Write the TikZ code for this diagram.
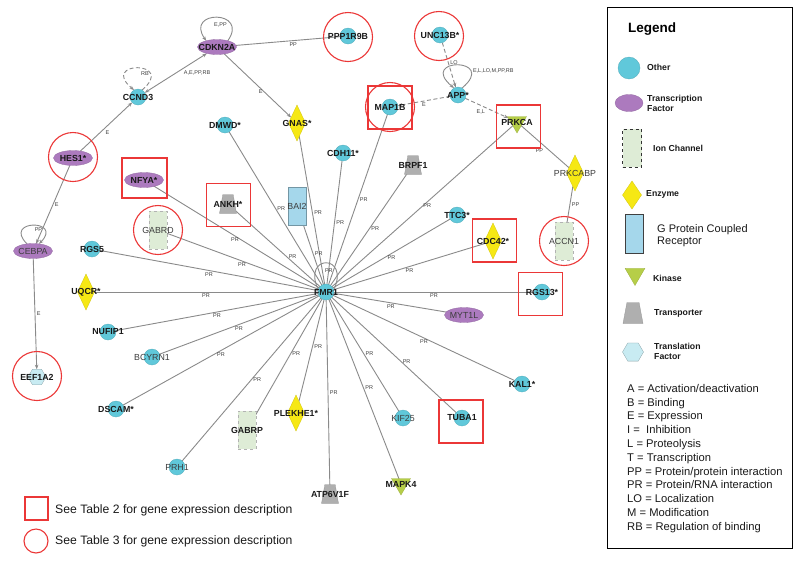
\documentclass[tikz,border=0pt]{standalone}
\usepackage{fontspec}
\setmainfont{Liberation Sans}
\usetikzlibrary{shapes.geometric,arrows.meta}
\pgfdeclarelayer{bg}
\pgfsetlayers{bg,main}
\definecolor{cother}{RGB}{96,200,218}
\definecolor{ctf}{RGB}{172,122,190}
\definecolor{cenz}{RGB}{246,232,20}
\definecolor{ckin}{RGB}{182,206,72}
\definecolor{ctrans}{RGB}{175,175,175}
\definecolor{cgpcr}{RGB}{165,215,235}
\definecolor{cion}{RGB}{222,236,214}
\definecolor{chex}{RGB}{200,235,242}
\definecolor{cred}{RGB}{235,55,55}
\definecolor{cedge}{RGB}{138,138,138}
\definecolor{ctext}{RGB}{25,25,25}
\definecolor{ctextr}{RGB}{60,60,60}
\begin{document}
\begin{tikzpicture}[x=1pt,y=-1pt,
  gene/.style={inner sep=0pt, outer sep=0pt, line width=0.3pt},
  glab/.style={font=\fontsize{8.8}{9}\selectfont\bfseries, text=ctext, inner sep=0pt},
  glabr/.style={font=\fontsize{8.8}{9}\selectfont, text=ctextr, inner sep=0pt},
  gl/.style={label={[glab]center:#1}},
  glr/.style={label={[glabr]center:#1}},
  other/.style={gene, circle, fill=cother, draw=cother!85!black, minimum size=16pt},
  tf/.style={gene, ellipse, fill=ctf, draw=ctf!85!black, minimum width=39pt, minimum height=15pt},
  enz/.style={gene, diamond, fill=cenz, draw=cenz!85!black, minimum width=17pt, minimum height=36pt},
  ion/.style={gene, rectangle, fill=cion, draw=gray!60, dashed, line width=0.5pt, minimum width=18pt, minimum height=38pt},
  gpcr/.style={gene, rectangle, fill=cgpcr, draw=cgpcr!70!black, line width=0.4pt, minimum width=18pt, minimum height=38pt},
  trans/.style={gene, inner sep=1pt, trapezium, trapezium left angle=72, trapezium right angle=72, trapezium stretches=true, fill=ctrans, draw=ctrans!85!black, minimum width=17pt, minimum height=19pt},
  kin/.style={gene, regular polygon, regular polygon sides=3, shape border rotate=180, fill=ckin, draw=ckin!85!black, minimum size=22pt},
  hex/.style={gene, regular polygon, regular polygon sides=6, fill=chex, draw=chex!70!black, minimum size=18pt},
  redci/.style={circle, draw=cred, line width=1.1pt, minimum size=49pt, inner sep=0pt},
  redsq/.style={rectangle, draw=cred, line width=1.1pt, minimum width=44pt, minimum height=43pt, inner sep=0pt},
  edge/.style={draw=cedge, line width=0.9pt},
  arr/.style={edge, -{Stealth[length=4.5pt,width=3.5pt]}},
  arrb/.style={edge, {Stealth[length=4.5pt,width=3.5pt]}-{Stealth[length=4.5pt,width=3.5pt]}},
  dashln/.style={dash pattern=on 4pt off 2.5pt},
  elbl/.style={font=\fontsize{5.5}{6}\selectfont, text=ctextr, inner sep=1.5pt},
  ltxt/.style={font=\fontsize{8.7}{9.8}\selectfont\bfseries, text=ctext, inner sep=0pt, align=left, anchor=west},
]
\useasboundingbox (0,0) rectangle (800,563);

% ---------------- genes ----------------
\node[other, gl=FMR1] (FMR1) at (326,292) {};
\node[tf, gl=CDKN2A] (CDKN2A) at (217,47) {};
\node[other, gl=CCND3] (CCND3) at (138,97) {};
\node[tf, gl={HES1*}] (HES1) at (73,158) {};
\node[tf, glr=CEBPA] (CEBPA) at (33,251) {};
\node[hex, gl=EEF1A2] (EEF1A2) at (37,377) {};
\node[other, gl=PPP1R9B] (PPP1R9B) at (348,36) {};
\node[other, gl={UNC13B*}] (UNC13B) at (440,35) {};
\node[other, gl={APP*}] (APP) at (458,95) {};
\node[other, gl=MAP1B] (MAP1B) at (390,107) {};
\node[kin, gl=PRKCA] (PRKCA) at (517,122) {};
\node[enz, glr=PRKCABP] (PRKCABP) at (575,173) {};
\node[ion, glr=ACCN1] (ACCN1) at (564,241) {};
\node[other, gl={DMWD*}] (DMWD) at (225,125) {};
\node[enz, gl={GNAS*}] (GNAS) at (297,123) {};
\node[other, gl={CDH11*}] (CDH11) at (343,153) {};
\node[trans, gl=BRPF1] (BRPF1) at (413,165) {};
\node[gpcr, glr=BAI2] (BAI2) at (297,206) {};
\node[trans, gl={ANKH*}] (ANKH) at (228,204) {};
\node[tf, gl={NFYA*}] (NFYA) at (144,180) {};
\node[ion, glr=GABRD] (GABRD) at (158,230) {};
\node[other, gl={TTC3*}] (TTC3) at (457,215) {};
\node[enz, gl={CDC42*}] (CDC42) at (493,241) {};
\node[other, gl={RGS13*}] (RGS13) at (542,292) {};
\node[tf, glr=MYT1L] (MYT1L) at (464,315) {};
\node[other, gl=RGS5] (RGS5) at (92,249) {};
\node[enz, gl={UQCR*}] (UQCR) at (86,292) {};
\node[other, gl=NUFIP1] (NUFIP1) at (108,332) {};
\node[other, glr=BCYRN1] (BCYRN1) at (152,357) {};
\node[other, gl={DSCAM*}] (DSCAM) at (116,409) {};
\node[other, glr=PRH1] (PRH1) at (177,467) {};
\node[ion, gl=GABRP] (GABRP) at (247,430) {};
\node[enz, gl={PLEKHE1*}] (PLEKHE1) at (296,413) {};
\node[trans, gl=ATP6V1F] (ATP6V1F) at (330,494) {};
\node[kin, gl=MAPK4] (MAPK4) at (401,484) {};
\node[other, glr=KIF25] (KIF25) at (403,418) {};
\node[other, gl=TUBA1] (TUBA1) at (462,418) {};
\node[other, gl={KAL1*}] (KAL1) at (522,384) {};

% ---------------- highlight marks ----------------
\node[redci] (HES1m) at (73,157) {};
\node[redci] (PPP1R9Bm) at (348,37) {};
\node[redci] (UNC13Bm) at (439,36) {};
\node[redci] (MAP1Bm) at (390,107) {};
\node[redsq] (MAP1Bs) at (390,107.5) {};
\node[redci] (GABRDm) at (158,230) {};
\node[redci] (ACCN1m) at (564,241) {};
\node[redci] (EEF1A2m) at (37,376) {};
\node[redsq, minimum width=45pt, minimum height=40pt] (NFYAs) at (144.5,178) {};
\node[redsq] (ANKHs) at (228.5,205) {};
\node[redsq] (PRKCAs) at (518.5,126.5) {};
\node[redsq] (CDC42s) at (494.5,240.5) {};
\node[redsq] (RGS13s) at (540.5,294) {};
\node[redsq] (TUBA1s) at (461,421.5) {};

% ---------------- connectors ----------------
\begin{pgfonlayer}{bg}
\foreach \n/\p/\a in {RGS5/.5/north, GABRD/.5/north, NFYA/.5/north, UQCR/.5/north,
  NUFIP1/.5/north, BCYRN1/.5/north, DSCAM/.5/north, PRKCA/.53/north, TTC3/.5/north,
  CDC42/.5/north, RGS13/.5/north, MYT1L/.47/north, KAL1/.5/north,
  DMWD/.5/west, GNAS/.47/west, BAI2/.45/west, CDH11/.5/west, MAP1B/.5/west,
  BRPF1/.5/west, ANKH/.4/west, PRH1/.5/west, GABRP/.45/west, PLEKHE1/.45/west,
  ATP6V1F/.5/west, MAPK4/.5/west, KIF25/.49/west, TUBA1/.55/west}
  \draw[edge] (FMR1.center) -- (\n.center) node[elbl, pos=\p, anchor=\a] {PR};
\draw[edge] (FMR1.165) to[out=115, in=65, distance=40pt] node[elbl, pos=.7, anchor=north east] {PR} (FMR1.15);

\draw[arr] (HES1) -- (CCND3) node[elbl, pos=.45, anchor=north west] {E};
\draw[arrb] (CCND3) -- (CDKN2A) node[elbl, pos=.6, anchor=north west] {A,E,PP,RB};
\draw[arr] (CDKN2A) -- (GNAS) node[elbl, pos=.6, anchor=east] {E};
\draw[edge] (CDKN2A) -- (PPP1R9B) node[elbl, pos=.55, anchor=north] {PP};
\draw[arr] (HES1) -- (CEBPA) node[elbl, pos=.5, anchor=west] {E};
\draw[arr] (CEBPA) -- (EEF1A2) node[elbl, pos=.5, anchor=west] {E};
\draw[arr, dashln] (UNC13B) -- (APP) node[elbl, pos=.45, anchor=west] {LO};
\draw[arr, dashln] (APP) -- (MAP1B) node[elbl, pos=.5, anchor=north] {E};
\draw[arr, dashln] (APP) -- (PRKCA) node[elbl, pos=.5, anchor=north east] {E,L};
\draw[edge] (PRKCA) -- (PRKCABP) node[elbl, pos=.5, anchor=north east] {PP};
\draw[edge] (PRKCABP) -- (ACCN1) node[elbl, pos=.5, anchor=west] {PP};

\draw[arr] (CDKN2A.30) to[out=55, in=125, distance=38pt] node[elbl, pos=.3, anchor=north east] {E,PP} (CDKN2A.150);
\draw[arr, dashln] (CCND3.60) to[out=40, in=140, distance=46pt] node[elbl, pos=.25, anchor=east] {RB} (CCND3.120);
\draw[arr] (CEBPA.130) to[out=135, in=45, distance=35pt] node[elbl, pos=.75, anchor=east] {PP} (CEBPA.50);
\draw[arr] (APP.60) to[out=40, in=140, distance=48pt] node[elbl, pos=.25, anchor=west] {E,L,LO,M,PP,RB} (APP.120);
\end{pgfonlayer}

% ---------------- bottom key ----------------
\node[rectangle, draw=cred, line width=1.1pt, minimum size=23pt, inner sep=0pt] (k2) at (36.5,508.5) {};
\node[font=\fontsize{12.2}{13}\selectfont, text=ctext, inner sep=0pt, anchor=west] (k2t) at (55,510) {See Table 2 for gene expression description};
\node[circle, draw=cred, line width=1.1pt, minimum size=24pt, inner sep=0pt] (k3) at (36,541) {};
\node[font=\fontsize{12.2}{13}\selectfont, text=ctext, inner sep=0pt, anchor=west] (k3t) at (55,541) {See Table 3 for gene expression description};

% ---------------- legend ----------------
\node[draw=black, line width=0.9pt, minimum width=185pt, minimum height=541pt, inner sep=0pt, anchor=north west] (legbox) at (607,7) {};
\node[font=\fontsize{13.5}{14}\selectfont\bfseries, inner sep=0pt] (legt) at (652,29) {Legend};
\node[other, minimum size=22pt] (L1) at (629,68) {};
\node[ltxt] (L1t) at (647,67) {Other};
\node[tf, minimum width=28pt, minimum height=17pt] (L2) at (629,103) {};
\node[ltxt] (L2t) at (647,103.5) {Transcription\\Factor};
\node[ion, draw=black!80, minimum width=19pt] (L3) at (632,148) {};
\node[ltxt] (L3t) at (653,148) {Ion Channel};
\node[enz, minimum width=19pt, minimum height=28pt] (L4) at (632,195) {};
\node[ltxt] (L4t) at (646,194) {Enzyme};
\node[gpcr, draw=black!75, minimum height=39pt] (L5) at (634,234) {};
\node[ltxt, font=\fontsize{11}{11.7}\selectfont] (L5t) at (657,235.5) {G Protein Coupled\\Receptor};
\node[kin, minimum size=23pt] (L6) at (635,274) {};
\node[ltxt] (L6t) at (653,278) {Kinase};
\node[trans, minimum width=20pt, minimum height=21pt] (L7) at (633,313) {};
\node[ltxt] (L7t) at (654,313) {Transporter};
\node[hex, minimum size=21pt] (L8) at (633,352) {};
\node[ltxt] (L8t) at (654,351.5) {Translation\\Factor};
\node[font=\fontsize{11.2}{13.8}\selectfont, text=ctext, inner sep=0pt, align=left, anchor=north west] (abbr) at (627,384) {A = Activation/deactivation\\B = Binding\\E = Expression\\I = \ Inhibition\\L = Proteolysis\\T = Transcription\\PP = Protein/protein interaction\\PR = Protein/RNA interaction\\LO = Localization\\M = Modification\\RB = Regulation of binding};
\end{tikzpicture}
\end{document}
